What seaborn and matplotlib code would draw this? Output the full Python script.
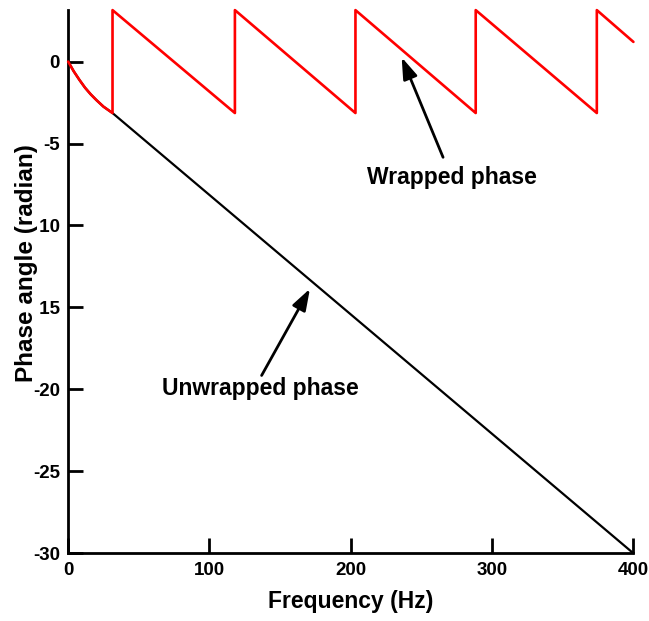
import matplotlib
matplotlib.use("Agg")
import matplotlib.pyplot as plt
import seaborn as sns
import pandas as pd

# Unwrapped phase (radian) vs frequency (Hz)
unwrapped_freq = [0, 4, 8, 12, 16, 20, 25, 31.4, 400]
unwrapped_phase = [0, -0.6, -1.12, -1.6, -2.0, -2.35, -2.75, -3.14, -30.0]

# Wrapped phase: saw-tooth between -pi and +pi
wrapped_freq = [0, 4, 8, 12, 16, 20, 25, 31.4, 31.4, 118.0, 118.0, 203.3, 203.3,
                288.4, 288.4, 374.1, 374.1, 400]
wrapped_phase = [0, -0.6, -1.12, -1.6, -2.0, -2.35, -2.75, -3.14, 3.14, -3.14, 3.14,
                 -3.14, 3.14, -3.14, 3.14, -3.14, 3.14, 1.2]

x_ticks = [0, 100, 200, 300, 400]
y_ticks = [0, -5, -10, -15, -20, -25, -30]

sns.set_theme(style="ticks")
plt.rcParams["font.family"] = ["Liberation Sans", "DejaVu Sans"]
plt.rcParams["font.weight"] = "bold"
plt.rcParams["axes.unicode_minus"] = False
plt.rcParams["text.color"] = "black"
plt.rcParams["axes.labelcolor"] = "black"
plt.rcParams["xtick.color"] = "black"
plt.rcParams["ytick.color"] = "black"

fig = plt.figure(figsize=(6.49, 6.21), dpi=100)
ax = fig.add_axes([0.105, 0.109, 0.871, 0.875])

df_u = pd.DataFrame({"f": unwrapped_freq, "p": unwrapped_phase})
df_w = pd.DataFrame({"f": wrapped_freq, "p": wrapped_phase})

sns.lineplot(data=df_u, x="f", y="p", ax=ax, color="black", linewidth=1.6,
             sort=False, estimator=None, zorder=2)
sns.lineplot(data=df_w, x="f", y="p", ax=ax, color="#ff0000", linewidth=1.9,
             sort=False, estimator=None, zorder=3)
for ln in ax.lines:
    ln.set_clip_on(False)

ax.set_xlim(0, 400)
ax.set_ylim(-30, 3.15)
ax.set_xticks(x_ticks)
ax.set_yticks(y_ticks)
ax.set_xticklabels([str(t) for t in x_ticks])
ax.set_yticklabels([str(t) for t in y_ticks])

for side in ["top", "right"]:
    ax.spines[side].set_visible(False)
for side in ["left", "bottom"]:
    ax.spines[side].set_linewidth(2.0)
    ax.spines[side].set_color("black")

ax.tick_params(axis="both", direction="in", length=11, width=2.0,
               labelsize=13.5, colors="black", pad=6)
for lab in ax.get_xticklabels() + ax.get_yticklabels():
    lab.set_fontweight("bold")
    lab.set_color("black")

ax.set_xlabel("Frequency (Hz)", fontsize=16.5, fontweight="bold", labelpad=8,
              color="black")
ax.set_ylabel("Phase angle (radian)", fontsize=17.5, fontweight="bold",
              color="black",
              bbox=dict(facecolor="white", edgecolor="none", pad=2.0))
ax.yaxis.set_label_coords(-0.054, 0.535)

arrow = dict(arrowstyle="-|>,head_length=0.65,head_width=0.22", color="black",
             lw=2.0, mutation_scale=20, shrinkA=0, shrinkB=0)
ax.annotate("", xy=(236.0, 0.26), xytext=(265.3, -5.84), arrowprops=arrow)
ax.text(271.4, -7.05, "Wrapped phase", ha="center", va="center",
        fontsize=16.5, fontweight="bold", color="black")
ax.annotate("", xy=(171.1, -13.86), xytext=(136.9, -19.15), arrowprops=arrow)
ax.text(135.7, -19.94, "Unwrapped phase", ha="center", va="center",
        fontsize=16.5, fontweight="bold", color="black")

fig.savefig("out.png", dpi=100)
